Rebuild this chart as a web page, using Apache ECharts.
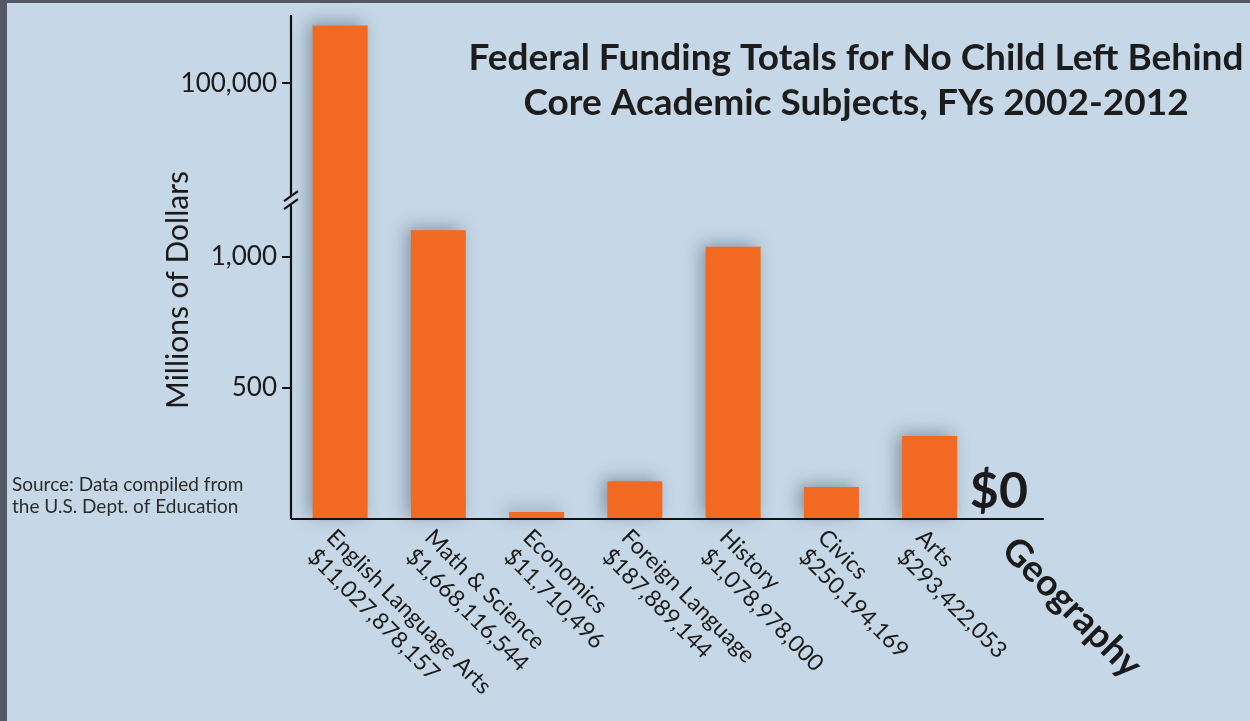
<!DOCTYPE html>
<html>
<head>
<meta charset="utf-8">
<script src="https://cdn.jsdelivr.net/npm/echarts@6/dist/echarts.min.js"></script>
<style>
html,body{margin:0;padding:0;background:#545866;}
#wrap{position:absolute;left:7px;top:3px;right:0;bottom:0;background:#c6d8e7;}
#chart{position:absolute;left:-7px;top:-3px;width:1250px;height:721px;}
</style>
</head>
<body>
<div id="wrap"><div id="chart"></div></div>
<script>
const categories = ['English Language Arts','Math & Science','Economics','Foreign Language','History','Civics','Arts','Geography'];
const amounts = ['$11,027,878,157','$1,668,116,544','$11,710,496','$187,889,144','$1,078,978,000','$250,194,169','$293,422,053','$0'];
const values = [100220, 1100, 27, 144, 1038, 122, 316, 0];
const yTickValues = [500, 1000, 100000];
const yTickLabels = ['500', '1,000', '100,000'];
const yMax = 100260;
const breakStart = 1200;
const breakEnd = 99570;

const FONT = 'Lato, "Open Sans", sans-serif';
const chart = echarts.init(document.getElementById('chart'), null, {renderer: 'canvas'});

const option = {
  backgroundColor: 'transparent',
  animation: false,
  title: {
    text: 'Federal Funding Totals for No Child Left Behind\nCore Academic Subjects, FYs 2002-2012',
    left: 851,
    top: 31,
    textAlign: 'center',
    textStyle: {fontFamily: FONT, fontSize: 37, fontWeight: 'bold', color: '#1c1c1c', lineHeight: 45, align: 'center'}
  },
  grid: {left: 291, right: 173, top: 15, bottom: 201, containLabel: false},
  xAxis: {
    type: 'category',
    data: categories,
    axisLine: {show: false},
    axisTick: {show: false},
    axisLabel: {
      interval: 0,
      rotate: -45,
      align: 'left',
      verticalAlign: 'top',
      margin: 5,
      fontFamily: FONT,
      fontSize: 23,
      lineHeight: 27,
      color: '#1a1a1a',
      formatter: function (v, i) {
        if (i === categories.length - 1) return '{g|' + v + '}';
        return v + '\n' + amounts[i];
      },
      rich: {
        g: {fontFamily: FONT, fontSize: 37, fontWeight: 'bold', color: '#1a1a1a', lineHeight: 40, padding: [16, 0, 0, 0]}
      }
    }
  },
  yAxis: {
    type: 'value',
    min: 0,
    max: yMax,
    breaks: [{start: breakStart, end: breakEnd, gap: '1.6%'}],
    breakArea: {show: false},
    splitLine: {show: false},
    axisLine: {show: false},
    axisTick: {show: true, customValues: yTickValues, length: 9, lineStyle: {color: '#111', width: 2}},
    axisLabel: {
      customValues: yTickValues,
      margin: 14,
      fontFamily: FONT,
      fontSize: 26,
      color: '#1a1a1a',
      formatter: function (v) {
        const i = yTickValues.indexOf(v);
        return i >= 0 ? yTickLabels[i] : '';
      }
    }
  },
  series: [{
    type: 'bar',
    barWidth: 55,
    data: values.map(function (v, i) {
      if (i === categories.length - 1) {
        return {value: v, label: {show: true, position: 'top', distance: 2, offset: [-29, 0], formatter: amounts[i],
          fontFamily: FONT, fontSize: 50, fontWeight: 'bold', color: '#1a1a1a'}};
      }
      return v;
    }),
    itemStyle: {
      color: '#f26a21',
      shadowColor: 'rgba(40,50,70,0.4)',
      shadowBlur: 16,
      shadowOffsetX: -5,
      shadowOffsetY: -3
    }
  }]
};
chart.setOption(option);

function drawDecor() {
  const y0 = chart.convertToPixel({yAxisIndex: 0}, 0);
  const yS = chart.convertToPixel({yAxisIndex: 0}, breakStart);
  const yE = chart.convertToPixel({yAxisIndex: 0}, breakEnd);
  const yM = chart.convertToPixel({yAxisIndex: 0}, yMax);
  const xL = chart.convertToPixel({xAxisIndex: 0}, categories[categories.length - 1]);
  const ax = 291;
  const stroke = {stroke: '#111', lineWidth: 2.2};
  chart.setOption({
    graphic: [
      {type: 'line', shape: {x1: ax, y1: y0, x2: ax, y2: yS}, style: stroke, z: 10},
      {type: 'line', shape: {x1: ax, y1: yE, x2: ax, y2: yM}, style: stroke, z: 10},
      {type: 'line', shape: {x1: ax - 7, y1: yS + 5, x2: ax + 7, y2: yS - 5}, style: stroke, z: 10},
      {type: 'line', shape: {x1: ax - 7, y1: yE + 5, x2: ax + 7, y2: yE - 5}, style: stroke, z: 10},
      {type: 'line', shape: {x1: ax, y1: y0, x2: xL + 16, y2: y0}, style: stroke, z: 10},
      {type: 'text', x: 178, y: 290, rotation: Math.PI / 2,
        style: {text: 'Millions of Dollars', font: '30px ' + FONT, fill: '#1a1a1a', textAlign: 'center', textVerticalAlign: 'middle'}},
      {type: 'text', x: 12, y: 474,
        style: {text: 'Source: Data compiled from\nthe U.S. Dept. of Education', font: '19px ' + FONT, fill: '#2b2b2b', lineHeight: 22}}
    ]
  });
}
drawDecor();
</script>
</body>
</html>
